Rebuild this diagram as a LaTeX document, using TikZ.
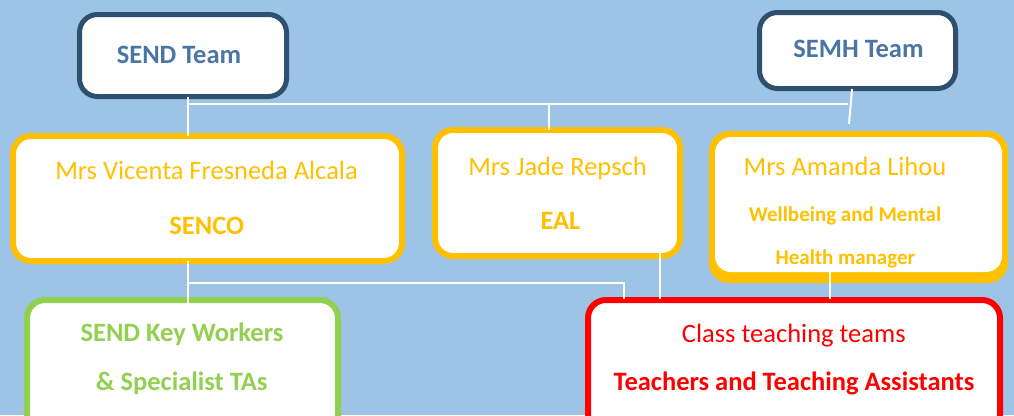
\documentclass[tikz,border=0pt]{standalone}
\usepackage{fontspec}
\setmainfont{Carlito}
\definecolor{bg}{HTML}{9DC3E6}
\definecolor{navy}{HTML}{2F4F6E}
\definecolor{navytext}{HTML}{4A76A6}
\definecolor{gold}{HTML}{FFC000}
\definecolor{leaf}{HTML}{92D050}
\definecolor{redc}{HTML}{FF0000}
\tikzset{
  box/.style={rectangle, rounded corners=18pt, fill=white, line width=6pt, inner sep=0pt, outer sep=0pt},
  teambox/.style={box, draw=navy, line width=5pt},
  goldbox/.style={box, draw=gold},
  greenbox/.style={box, draw=leaf},
  redbox/.style={box, draw=redc},
  big/.style={font=\fontsize{26.5}{30}\selectfont, anchor=base, inner sep=0pt},
  bigb/.style={big, font=\fontsize{26.5}{30}\selectfont\bfseries},
  smallb/.style={font=\fontsize{21}{24}\selectfont\bfseries, anchor=base, inner sep=0pt},
  conn/.style={draw=white, line width=2pt}
}
\begin{document}
\begin{tikzpicture}[x=1pt,y=-1pt]
\fill[bg] (0,0) rectangle (1014,415);
\clip (0,0) rectangle (1014,415);
\useasboundingbox (0,0) rectangle (1014,415);

% boxes
\node[teambox, minimum width=207pt, minimum height=82pt] (send) at (183,55.5) {};
\node[teambox, minimum width=196pt, minimum height=76pt] (semh) at (857.5,50.5) {};
\node[goldbox, minimum width=389pt, minimum height=125pt] (senco) at (207.5,198.5) {};
\node[goldbox, minimum width=245pt, minimum height=126pt] (jade) at (557.5,193) {};
\node[rectangle, rounded corners=20pt, fill=gold, inner sep=0pt, outer sep=0pt, minimum width=299pt, minimum height=152pt] (amanda) at (858.5,207) {};
\node[rectangle, rounded corners=16pt, fill=white, inner sep=0pt, outer sep=0pt, minimum width=287pt, minimum height=135pt] (amandain) at (858.5,204.5) {};
\node[greenbox, minimum width=311pt, minimum height=140pt] (keyw) at (182.5,370) {};
\node[redbox, minimum width=412pt, minimum height=140pt] (classt) at (794,370) {};

% texts
\node[bigb, text=navytext] (t1) at (179,63) {SEND Team};
\node[bigb, text=navytext] (t2) at (858.5,57) {SEMH Team};
\node[big, text=gold] (t3) at (206.5,179) {Mrs Vicenta Fresneda Alcala};
\node[bigb, text=gold] (t4) at (206.7,234) {SENCO};
\node[big, text=gold] (t5) at (557.5,175) {Mrs Jade Repsch};
\node[bigb, text=gold] (t6) at (560.5,229) {EAL};
\node[big, text=gold] (t7) at (845,175) {Mrs Amanda Lihou};
\node[smallb, text=gold] (t8) at (845,221) {Wellbeing and Mental};
\node[smallb, text=gold] (t9) at (845.3,264) {Health manager};
\node[bigb, text=leaf] (t10) at (182,341.5) {SEND Key Workers};
\node[bigb, text=leaf] (t11) at (181.7,390.5) {\& Specialist TAs};
\node[big, text=redc] (t12) at (793.8,342.5) {Class teaching teams};
\node[bigb, text=redc] (t13) at (794,390) {Teachers and Teaching Assistants};

% connector coordinates
\coordinate (xa) at (188,0);
\coordinate (xb) at (549,0);
\coordinate (xc) at (624,0);
\coordinate (xd) at (660,0);
\coordinate (xe) at (830,0);
\coordinate (ya) at (0,104);
\coordinate (yb) at (0,282.5);
\coordinate (ja) at (188,104);
\coordinate (jb) at (848,104);
\coordinate (jc) at (188,282.5);
\coordinate (jd) at (624,282.5);
\coordinate (semhend) at (849,124);
\coordinate (semhstart) at (852,89);

% connectors
\draw[conn] (send.south -| xa) -- (senco.north -| xa);
\draw[conn] (ja) -- (jb);
\draw[conn] (xb |- ya) -- (jade.north -| xb);
\draw[conn] (semhstart) -- (semhend);
\draw[conn] (senco.south -| xa) -- ([yshift=-3pt]keyw.north -| xa);
\draw[conn] (jc) -- (jd) -- ([yshift=1pt]classt.north -| xc);
\draw[conn] ([yshift=3pt]jade.south -| xd) -- ([yshift=1pt]classt.north -| xd);
\draw[conn] (amandain.south -| xe) -- ([yshift=1pt]classt.north -| xe);
\end{tikzpicture}
\end{document}
